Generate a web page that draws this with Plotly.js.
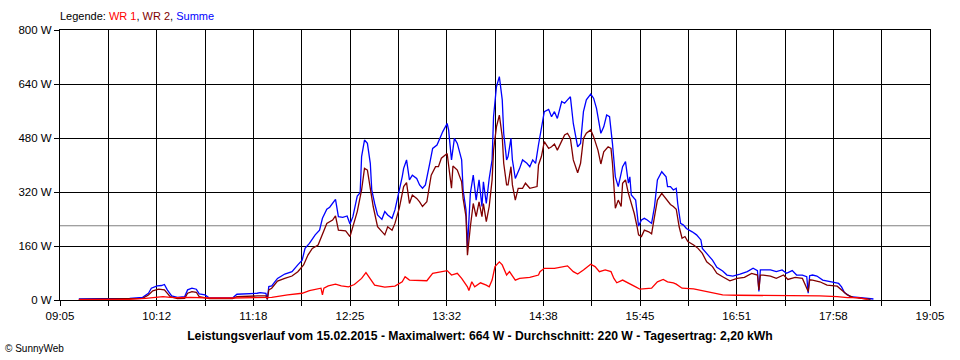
<!DOCTYPE html>
<html>
<head>
<meta charset="utf-8">
<script src="https://cdn.plot.ly/plotly-3.0.1.min.js"></script>
<style>html,body{margin:0;padding:0;background:#fff;}#chart{width:960px;height:360px;}</style>
</head>
<body>
<div id="chart"></div>
<script>
// ---- data (times HH:MM, values in W) ----
const sumTimes = ["09:18","09:26","09:33","09:40","09:46","09:53","10:02","10:06","10:08","10:12","10:15","10:17","10:19","10:22","10:26","10:31","10:33","10:36","10:39","10:41","10:45","10:48","10:57","11:04","11:07","11:16","11:21","11:23","11:27","11:28","11:29","11:31","11:35","11:40","11:45","11:49","11:52","11:54","11:57","12:01","12:04","12:06","12:09","12:11","12:15","12:17","12:20","12:23","12:25","12:27","12:30","12:32","12:33","12:35","12:37","12:39","12:40","12:42","12:44","12:47","12:49","12:51","12:54","12:56","12:59","13:01","13:02","13:04","13:06","13:08","13:11","13:13","13:15","13:17","13:20","13:22","13:25","13:27","13:29","13:32","13:33","13:35","13:37","13:39","13:42","13:43","13:45","13:46","13:47","13:48","13:50","13:52","13:54","13:56","13:57","13:59","14:01","14:03","14:04","14:06","14:08","14:10","14:11","14:13","14:14","14:16","14:17","14:19","14:22","14:24","14:27","14:29","14:31","14:33","14:35","14:37","14:39","14:42","14:44","14:46","14:48","14:51","14:53","14:55","14:57","14:59","15:02","15:04","15:06","15:08","15:11","15:13","15:15","15:18","15:20","15:22","15:24","15:26","15:28","15:30","15:31","15:33","15:35","15:37","15:38","15:39","15:42","15:43","15:44","15:46","15:48","15:50","15:53","15:55","15:57","16:00","16:03","16:04","16:06","16:08","16:10","16:11","16:13","16:15","16:17","16:21","16:24","16:27","16:28","16:32","16:35","16:38","16:42","16:45","16:49","16:54","16:59","17:03","17:06","17:07","17:08","17:10","17:15","17:19","17:23","17:26","17:30","17:33","17:37","17:40","17:41","17:42","17:44","17:47","17:51","17:57","18:02","18:04","18:06","18:10","18:15","18:19","18:24","18:26"];
const sumValues = [3,3,4,5,5,5,8,20,35,42,43,46,30,12,8,10,30,35,32,18,15,6,6,6,17,18,20,22,20,2,40,42,64,77,84,104,118,153,168,193,207,242,269,275,298,247,245,249,225,247,308,318,425,474,464,405,326,286,252,239,262,252,242,267,321,365,390,415,356,370,360,341,331,341,405,449,459,479,499,523,504,415,479,464,415,326,267,155,257,316,370,296,356,277,350,286,360,415,543,632,662,593,494,415,425,479,415,360,390,415,405,395,415,405,460,509,558,565,543,558,538,588,583,593,602,523,454,464,558,593,610,598,568,494,513,548,543,464,365,336,356,395,410,346,365,311,296,252,219,237,242,237,227,277,356,380,365,336,336,326,331,286,227,222,212,202,193,178,153,133,118,97,86,74,71,77,84,94,87,25,89,89,89,84,89,79,87,74,74,69,20,72,74,71,59,54,49,39,22,10,8,7,5,3];

const wr2Times = ["09:18","09:40","09:53","10:02","10:06","10:09","10:13","10:15","10:17","10:21","10:26","10:31","10:33","10:36","10:39","10:41","10:48","11:04","11:07","11:21","11:27","11:28","11:29","11:31","11:35","11:40","11:45","11:49","11:53","11:56","11:59","12:03","12:06","12:09","12:13","12:15","12:17","12:22","12:25","12:27","12:30","12:33","12:35","12:37","12:39","12:41","12:44","12:47","12:49","12:51","12:54","12:56","12:59","13:02","13:04","13:06","13:08","13:11","13:13","13:15","13:18","13:21","13:24","13:26","13:28","13:32","13:33","13:35","13:36","13:39","13:42","13:43","13:45","13:46","13:48","13:50","13:52","13:54","13:56","13:57","13:59","14:01","14:03","14:04","14:06","14:08","14:10","14:11","14:13","14:14","14:16","14:17","14:19","14:21","14:24","14:26","14:29","14:33","14:34","14:35","14:37","14:39","14:42","14:44","14:46","14:48","14:51","14:53","14:55","14:57","14:59","15:02","15:04","15:06","15:08","15:11","15:13","15:16","15:18","15:20","15:23","15:25","15:26","15:28","15:30","15:32","15:33","15:35","15:37","15:39","15:41","15:43","15:44","15:46","15:48","15:51","15:53","15:55","15:57","16:00","16:04","16:06","16:08","16:10","16:12","16:14","16:16","16:18","16:22","16:25","16:28","16:31","16:35","16:38","16:42","16:47","16:52","16:57","17:02","17:06","17:07","17:08","17:10","17:15","17:19","17:24","17:27","17:32","17:37","17:41","17:42","17:44","17:49","17:54","18:01","18:04","18:08","18:12","18:19","18:24"];
const wr2Values = [2,3,3,5,15,27,32,32,30,10,4,5,20,25,23,10,4,4,10,12,12,2,30,35,56,64,71,84,104,133,153,163,198,227,237,249,207,205,188,217,262,326,390,385,336,277,217,202,193,217,207,227,272,336,348,286,311,301,291,277,291,370,395,395,420,434,395,331,397,385,350,301,247,133,217,286,247,291,247,286,232,277,356,444,513,548,484,405,341,341,395,341,296,331,331,346,331,335,336,400,425,469,449,454,462,444,474,489,494,479,415,377,405,479,494,504,484,444,403,439,454,449,405,272,296,277,346,356,316,286,257,217,193,188,207,202,196,247,296,316,296,283,277,269,217,183,188,173,163,153,138,113,99,79,69,57,64,67,79,74,30,74,74,71,64,74,61,67,64,25,60,59,54,44,41,30,15,8,4,2];

const wr1Times = ["09:18","09:40","09:53","10:04","10:09","10:16","10:21","10:26","10:35","10:42","10:48","11:04","11:21","11:31","11:42","11:52","11:57","12:05","12:06","12:07","12:10","12:15","12:19","12:24","12:28","12:33","12:36","12:39","12:42","12:49","12:56","13:01","13:03","13:06","13:13","13:18","13:22","13:27","13:32","13:35","13:39","13:42","13:46","13:47","13:49","13:51","13:55","13:59","14:01","14:03","14:05","14:08","14:10","14:13","14:15","14:19","14:22","14:29","14:35","14:36","14:39","14:46","14:51","14:55","14:59","15:02","15:06","15:11","15:14","15:17","15:21","15:25","15:27","15:29","15:33","15:37","15:42","15:45","15:53","15:57","16:01","16:04","16:08","16:10","16:14","16:22","16:28","16:35","16:42","16:52","17:03","17:15","17:33","17:49","18:01","18:08","18:15","18:22"];
const wr1Values = [1,2,2,5,8,10,8,7,8,7,6,6,8,8,15,20,28,35,15,35,42,47,42,39,46,64,81,61,44,38,41,54,69,59,59,57,79,84,87,74,79,64,39,28,54,39,51,44,39,59,99,113,104,74,84,59,64,67,74,84,94,94,99,101,84,77,89,106,99,84,89,84,64,51,59,49,39,32,35,54,61,54,51,47,35,33,28,20,15,14,14,14,13,12,10,7,7,2];

const tickLabels = ["09:05","10:12","11:18","12:25","13:32","14:38","15:45","16:51","17:58","19:05"];
const yTicks = [0,160,320,480,640,800];
const yTickLabels = ["0 W","160 W","320 W","480 W","640 W","800 W"];
const avgValue = 220;
const titleText = "Leistungsverlauf vom 15.02.2015 - Maximalwert: 664 W - Durchschnitt: 220 W - Tagesertrag: 2,20 kWh";

// ---- helpers ----
const toMin = s => { const p = s.split(":"); return (+p[0]) * 60 + (+p[1]); };
const xStart = 9 * 60 + 5, xEnd = 19 * 60 + 5;
const step = (xEnd - xStart) / 18;
const tickvals = [], ticktext = [];
for (let i = 0; i <= 18; i++) {
  tickvals.push(xStart + i * step);
  ticktext.push(i % 2 === 0 ? tickLabels[i / 2] : "");
}

const FONT = "Liberation Sans, Arial, sans-serif";
const traces = [
  {x: sumTimes.map(toMin), y: sumValues, name: "Summe", mode: "lines", line: {color: "#0000ff", width: 1.3}},
  {x: wr2Times.map(toMin), y: wr2Values, name: "WR 2", mode: "lines", line: {color: "#800000", width: 1.3}},
  {x: wr1Times.map(toMin), y: wr1Values, name: "WR 1", mode: "lines", line: {color: "#ff0000", width: 1.3}}
];

const layout = {
  width: 960, height: 360,
  margin: {l: 60, r: 30, t: 30, b: 60},
  paper_bgcolor: "#ffffff", plot_bgcolor: "#ffffff",
  showlegend: false,
  font: {family: FONT, size: 11, color: "#000"},
  xaxis: {
    range: [xStart, xEnd], tickmode: "array", tickvals: tickvals, ticktext: ticktext,
    showgrid: true, gridcolor: "#000", gridwidth: 1,
    showline: true, linecolor: "#000", linewidth: 1, mirror: true,
    ticks: "outside", ticklen: 5, tickcolor: "#000", zeroline: false,
    tickfont: {family: FONT, size: 11.5, color: "#000"}
  },
  yaxis: {
    range: [0, 800], tickmode: "array", tickvals: yTicks, ticktext: yTickLabels,
    showgrid: true, gridcolor: "#000", gridwidth: 1,
    showline: true, linecolor: "#000", linewidth: 1, mirror: true,
    ticks: "outside", ticklen: 5, tickcolor: "#000", zeroline: false,
    tickfont: {family: FONT, size: 11.5, color: "#000"}
  },
  title: {
    text: "<b>" + titleText + "</b>",
    x: 0.5, xref: "container", xanchor: "center",
    y: (360 - 336) / 360, yref: "container", yanchor: "middle",
    font: {family: FONT, size: 12.2, color: "#000"}
  },
  shapes: [{
    type: "line", xref: "paper", x0: 0, x1: 1, yref: "y", y0: avgValue, y1: avgValue,
    line: {color: "#808080", width: 1.2}, layer: "below"
  }],
  annotations: [
    {xref: "paper", yref: "paper", x: -2 / 870, y: 1 + 14 / 270, xanchor: "left", yanchor: "middle", showarrow: false,
     text: "Legende: <span style='color:#ff0000'>WR 1</span>, <span style='color:#800000'>WR 2</span>, <span style='color:#0000ff'>Summe</span>",
     font: {family: FONT, size: 11, color: "#000"}},
    {xref: "paper", yref: "paper", x: -57 / 870, y: -48 / 270, xanchor: "left", yanchor: "middle", showarrow: false,
     text: "© SunnyWeb", font: {family: FONT, size: 10, color: "#000"}}
  ]
};

Plotly.newPlot("chart", traces, layout, {staticPlot: true, displayModeBar: false});
</script>
</body>
</html>
